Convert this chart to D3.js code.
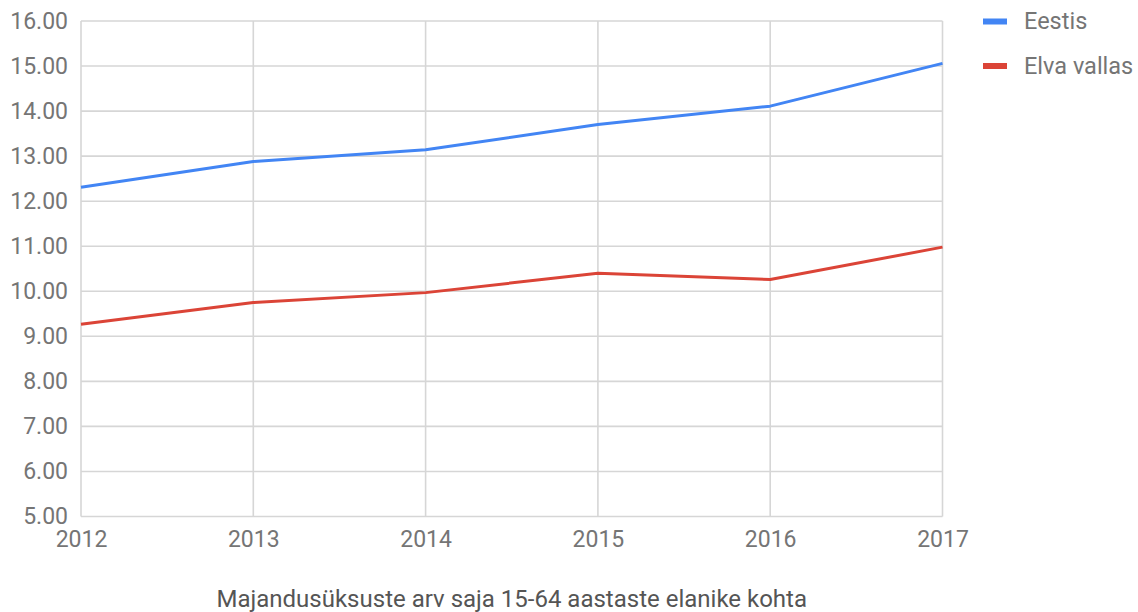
<!DOCTYPE html>
<html>
<head>
<meta charset="utf-8">
<script src="https://cdn.jsdelivr.net/npm/d3@7"></script>
<style>
  html, body { margin: 0; padding: 0; background: #ffffff; }
  svg { display: block; font-family: Roboto, "Noto Sans", sans-serif; }
</style>
</head>
<body>
<svg id="chart" width="1138" height="612"></svg>
<script>
const years = [2012, 2013, 2014, 2015, 2016, 2017];
const eestis = [12.31, 12.88, 13.14, 13.70, 14.11, 15.06];
const elvaVallas = [9.27, 9.75, 9.97, 10.40, 10.26, 10.98];
const seriesNames = ["Eestis", "Elva vallas"];
const seriesColors = ["#4285f4", "#db4437"];
const yTicks = [5, 6, 7, 8, 9, 10, 11, 12, 13, 14, 15, 16];
const chartTitle = "Majandusüksuste arv saja 15-64 aastaste elanike kohta";

const series = [eestis, elvaVallas];

const svg = d3.select("#chart");
const margin = { left: 81, right: 1138 - 942.5, top: 21, bottom: 612 - 516.5 };
const width = 1138, height = 612;

const x = d3.scaleLinear().domain([years[0], years[years.length - 1]]).range([margin.left, width - margin.right]);
const y = d3.scaleLinear().domain([5, 16]).range([height - margin.bottom, margin.top]);

const gridColor = "#d6d6d6";
const labelColor = "#757575";

// horizontal grid
svg.append("g").selectAll("line").data(yTicks).join("line")
  .attr("x1", margin.left).attr("x2", width - margin.right)
  .attr("y1", d => y(d)).attr("y2", d => y(d))
  .attr("stroke", gridColor).attr("stroke-width", 1.6);

// vertical grid
svg.append("g").selectAll("line").data(years).join("line")
  .attr("x1", d => x(d)).attr("x2", d => x(d))
  .attr("y1", margin.top).attr("y2", height - margin.bottom)
  .attr("stroke", gridColor).attr("stroke-width", 1.6);

// y axis labels
const yAxis = d3.axisLeft(y).tickValues(yTicks).tickFormat(d3.format(".2f")).tickSize(0).tickPadding(13);
const gy = svg.append("g").attr("transform", `translate(${margin.left},0)`).call(yAxis);
gy.select(".domain").remove();
gy.selectAll("text").attr("fill", labelColor).style("font-size", "23px").style("font-family", "Roboto");

// x axis labels
const xAxis = d3.axisBottom(x).tickValues(years).tickFormat(d3.format("d")).tickSize(0).tickPadding(14);
const gx = svg.append("g").attr("transform", `translate(0,${height - margin.bottom})`).call(xAxis);
gx.select(".domain").remove();
gx.selectAll("text").attr("fill", labelColor).style("font-size", "23px").style("font-family", "Roboto");

// lines
const line = d3.line().x((d, i) => x(years[i])).y(d => y(d));
svg.append("g").selectAll("path").data(series).join("path")
  .attr("d", d => line(d))
  .attr("fill", "none")
  .attr("stroke", (d, i) => seriesColors[i])
  .attr("stroke-width", 3)
  .attr("stroke-linejoin", "round");

// legend
const lg = svg.append("g").selectAll("g").data(seriesNames).join("g")
  .attr("transform", (d, i) => `translate(983,${21.5 + i * 44.5})`);
lg.append("rect").attr("x", 0).attr("y", -3).attr("width", 24).attr("height", 6)
  .attr("fill", (d, i) => seriesColors[i]);
lg.append("text").attr("x", 41).attr("y", 7.5).text(d => d)
  .attr("fill", labelColor).style("font-size", "23.5px");

// title
svg.append("text").attr("x", (margin.left + width - margin.right) / 2).attr("y", 607)
  .attr("text-anchor", "middle").attr("fill", "#555555").style("font-size", "24px")
  .text(chartTitle);
</script>
</body>
</html>
